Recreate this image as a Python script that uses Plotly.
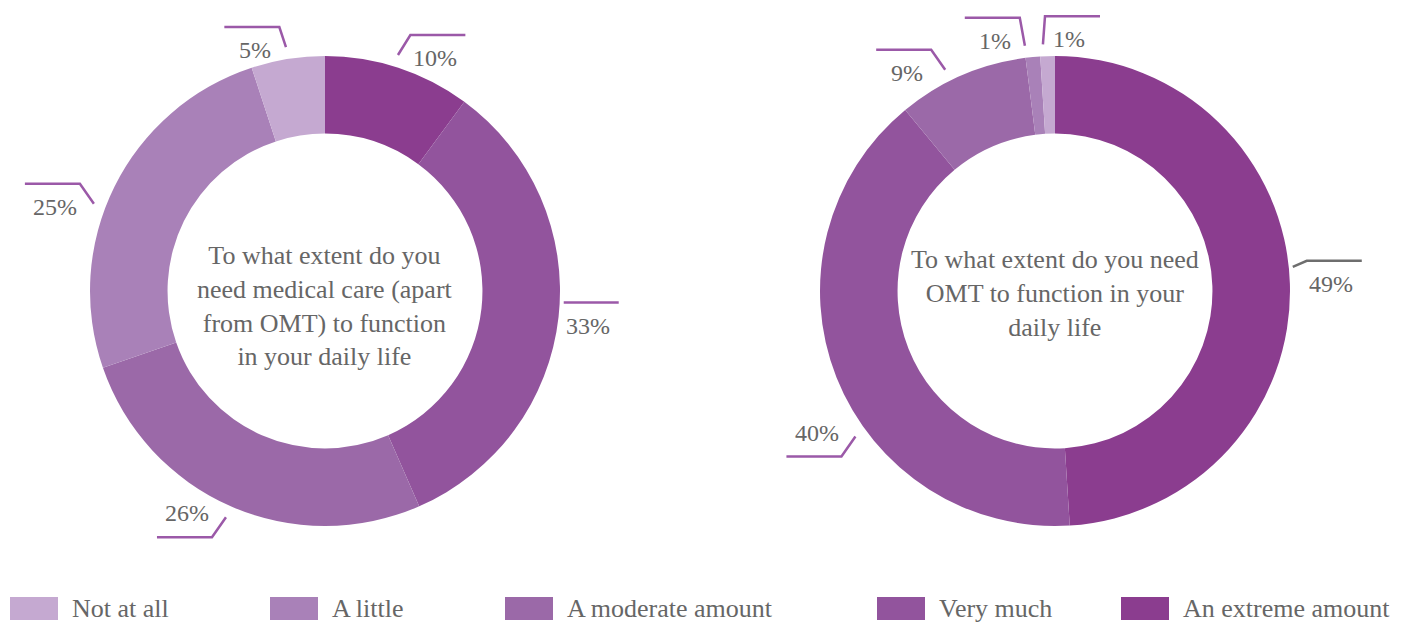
import math
import plotly.graph_objects as go

# ---- data ----
categories = ["Not at all", "A little", "A moderate amount", "Very much", "An extreme amount"]
colors = ["#c5a9d1", "#a981b8", "#9b69a8", "#92549d", "#8b3d8f"]

# slice order as drawn, clockwise from 12 o'clock
slice_order = ["An extreme amount", "Very much", "A moderate amount", "A little", "Not at all"]
care_pct = [10, 33, 26, 25, 5]
omt_pct = [49, 40, 9, 1, 1]

care_title = "To what extent do you<br>need medical care (apart<br>from OMT) to function<br>in your daily life"
omt_title = "To what extent do you need<br>OMT to function in your<br>daily life"

# ---- layout constants ----
W, H = 1414, 623
OFF = 8          # page body margin, so window px == axis units
R = 235
FONT = "Liberation Serif"
TEXT_COL = "#666666"
LEADER = "#9b59a8"

# label placement: side of the horizontal leader, small angle nudges (deg)
charts = [
    dict(values=care_pct, title=care_title, cx=325, cy=291, ty=306,
         sides=[1, 1, -1, -1, -1], nudge=[-1, -3.6, 0, -5.7, 0],
         line_cols=[LEADER] * 5),
    dict(values=omt_pct, title=omt_title, cx=1055, cy=291, ty=293,
         sides=[1, -1, -1, -1, 1], nudge=[-4, -14.5, -3, -1.6, -1],
         line_cols=["#6e6e6e"] + [LEADER] * 4),
]

color_of = dict(zip(categories, colors))

fig = go.Figure()

for ch in charts:
    cx, cy = ch["cx"], ch["cy"]
    fig.add_trace(go.Pie(
        labels=slice_order,
        values=ch["values"],
        marker=dict(colors=[color_of[c] for c in slice_order], line=dict(width=0)),
        hole=0.67,
        sort=False,
        direction="clockwise",
        rotation=0,
        textinfo="none",
        hoverinfo="label+value",
        showlegend=False,
        domain=dict(x=[(cx - R - OFF) / W, (cx + R - OFF) / W],
                    y=[1 - (cy + R - OFF) / H, 1 - (cy - R - OFF) / H]),
    ))

    # centre question
    fig.add_annotation(x=cx, y=ch["ty"], xref="x", yref="y", text=ch["title"], showarrow=False,
                       font=dict(family=FONT, size=26, color=TEXT_COL), align="center")

    # leader lines + percent labels, placed from the slice angles
    total = sum(ch["values"])
    cum = 0
    for v, side, nd, lc in zip(ch["values"], ch["sides"], ch["nudge"], ch["line_cols"]):
        mid = (cum + v / 2) / total * 2 * math.pi + math.radians(nd)
        cum += v
        ux, uy = math.sin(mid), -math.cos(mid)
        r0 = R + 12 if abs(uy) > 0.2 else R + 4
        x0, y0 = cx + r0 * ux, cy + r0 * uy
        if abs(uy) < 0.06:
            dx, dy = 0, 0
        else:
            dx = side * 14 * min(1, abs(ux) * 3)
            dy = math.copysign(28 if abs(ux) < 0.15 else 20 * min(1, abs(uy) * 3), uy)
        x1, y1 = x0 + dx, y0 + dy
        x2 = x1 + 55 * side
        fig.add_shape(type="path", xref="x", yref="y",
                      path=f"M {x0},{y0} L {x1},{y1} L {x2},{y1}",
                      line=dict(color=lc, width=2.5))
        ly = y1 - 24 if uy > 0.5 else y1 + 23
        fig.add_annotation(x=(x1 + x2) / 2 - 3 * side, y=ly, xref="x", yref="y",
                           text=f"{v}%", showarrow=False,
                           font=dict(family=FONT, size=24, color=TEXT_COL))

# ---- legend (drawn by hand so the swatches are wide rectangles) ----
legend_x = [10, 270, 505, 877, 1121]
for name, col, lx in zip(categories, colors, legend_x):
    fig.add_shape(type="rect", xref="x", yref="y", x0=lx, x1=lx + 48, y0=597, y1=620,
                  fillcolor=col, line=dict(width=0))
    fig.add_annotation(x=lx + 60, y=608, xref="x", yref="y", text=name, showarrow=False,
                       xanchor="left", font=dict(family=FONT, size=26, color=TEXT_COL))

fig.update_layout(
    width=W,
    height=H,
    margin=dict(l=0, r=0, t=0, b=0),
    paper_bgcolor="white",
    plot_bgcolor="white",
    xaxis=dict(range=[OFF, W + OFF], visible=False, domain=[0, 1], fixedrange=True),
    yaxis=dict(range=[H + OFF, OFF], visible=False, domain=[0, 1], fixedrange=True),
)

fig.write_html("out.html")
